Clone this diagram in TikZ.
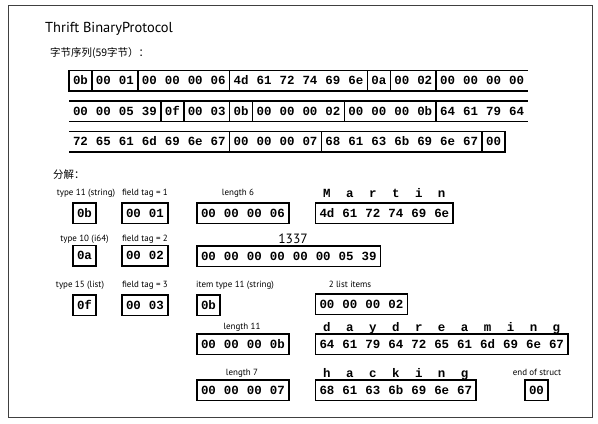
\documentclass[tikz,border=0pt]{standalone}
\usepackage{fontspec}
\setmainfont{PT Sans}
\newfontfamily\hexf{Liberation Mono}
\newfontfamily\cjkf{Noto Sans CJK SC}
\newcommand\cw{22.95}
\newcommand\bytebox[5]{% name, x, ytop, n, bytes
  \node[bx, minimum width={#4*22.95bp}] (#1) at (#2,#3) {};
  \foreach \b [count=\i from 0] in {#5}
    \node[hex] (#1-\i) at ({#2+(\i+0.5)*\cw},{#3+10.25}) {\b};
}
\newcommand\letters[4]{% name, x, ycenter, letters
  \foreach \c [count=\i from 0] in {#4}
    \node[hex] (#1-\i) at ({#2+(\i+0.5)*\cw},#3) {\c};
}
\begin{document}
\begin{tikzpicture}[x=1bp,y=-1bp,
  hex/.style={font=\hexf\bfseries\fontsize{12.5}{14}\selectfont, inner sep=0pt, text height=8.2bp, text depth=0pt, anchor=center},
  bx/.style={draw, line width=1.5bp, minimum height=20.5bp, inner sep=0pt, outer sep=0pt, anchor=north west},
  rowline/.style={line width=1.6bp},
  lab/.style={font=\fontsize{9}{10}\selectfont, inner sep=0pt, text height=6.6bp, text depth=1.9bp, anchor=center},
  cjklab/.style={anchor=west, inner sep=0pt, font=\cjkf\fontsize{10.5}{12}\selectfont},
  frame/.style={draw=black!75, line width=1bp}]
\useasboundingbox (0,0) rectangle (598,423);
\draw[frame] (8,5) rectangle (592,417);
\node[anchor=base west, inner sep=0pt, font=\fontsize{14.5}{16}\selectfont] (title) at (45,32) {Thrift BinaryProtocol};
\node[cjklab] (seq) at (50,53) {字节序列(59字节）：};
% ---- row 1
\letters{ra}{69}{80.75}{0b,00,01,00,00,00,06,4d,61,72,74,69,6e,0a,00,02,00,00,00,00}
\draw[rowline] (528,70.5) -- (69,70.5) -- (69,91) -- (528,91);
\foreach \k in {1,3,7,13,14,16} \draw[rowline] ({69+\k*\cw},70.5) -- ++(0,20.5);
% ---- row 2
\letters{rb}{69}{111.25}{00,00,05,39,0f,00,03,0b,00,00,00,02,00,00,00,0b,64,61,79,64}
\draw[rowline] (69,101) -- (528,101);
\draw[rowline] (69,121.5) -- (528,121.5);
\foreach \k in {4,5,7,8,12,16} \draw[rowline] ({69+\k*\cw},101) -- ++(0,20.5);
% ---- row 3
\letters{rc}{69}{141.75}{72,65,61,6d,69,6e,67,00,00,00,07,68,61,63,6b,69,6e,67,00}
\draw[rowline] (69,131.5) -- ({69+19*\cw},131.5) -- ({69+19*\cw},152) -- (69,152);
\foreach \k in {7,11,18} \draw[rowline] ({69+\k*\cw},131.5) -- ++(0,20.5);
% ---- decomposition
\node[cjklab] (fenjie) at (53,175) {分解：};
% row A
\node[lab] (la1) at (86,193) {type 11 (string)};
\node[lab] (la2) at (145,193) {field tag = 1};
\node[lab] (la3) at (238,193) {length 6};
\letters{martin}{315.5}{193}{M,a,r,t,i,n}
\bytebox{a1}{73}{203}{1}{0b}
\bytebox{a2}{122}{203}{2}{00,01}
\bytebox{a3}{197}{203}{4}{00,00,00,06}
\bytebox{a4}{315.5}{203}{6}{4d,61,72,74,69,6e}
% row B
\node[lab] (lb1) at (84.5,239) {type 10 (i64)};
\node[lab] (lb2) at (145,239) {field tag = 2};
\node[inner sep=0pt, font=\fontsize{13.5}{15}\selectfont] (lb3) at (293,239) {1337};
\bytebox{b1}{73}{245.5}{1}{0a}
\bytebox{b2}{122}{245.5}{2}{00,02}
\bytebox{b3}{197}{246}{8}{00,00,00,00,00,00,05,39}
% row C
\node[lab] (lc1) at (80,285) {type 15 (list)};
\node[lab] (lc2) at (145,285) {field tag = 3};
\node[lab, anchor=west] (lc3) at (196,285) {item type 11 (string)};
\node[lab] (lc4) at (350,285) {2 list items};
\bytebox{c1}{73}{295}{1}{0f}
\bytebox{c2}{122}{295}{2}{00,03}
\bytebox{c3}{197}{295}{1}{0b}
\bytebox{c4}{315.5}{294}{4}{00,00,00,02}
% row D
\node[lab] (ld1) at (242,327) {length 11};
\letters{dd}{315.5}{327}{d,a,y,d,r,e,a,m,i,n,g}
\bytebox{d1}{197}{334}{4}{00,00,00,0b}
\bytebox{d2}{315.5}{334}{11}{64,61,79,64,72,65,61,6d,69,6e,67}
% row E
\node[lab] (le1) at (242,373) {length 7};
\letters{hk}{315.5}{373}{h,a,c,k,i,n,g}
\node[lab] (le2) at (537,373) {end of struct};
\bytebox{e1}{197}{380}{4}{00,00,00,07}
\bytebox{e2}{315.5}{380}{7}{68,61,63,6b,69,6e,67}
\bytebox{e3}{525}{380}{1}{00}
\end{tikzpicture}
\end{document}
